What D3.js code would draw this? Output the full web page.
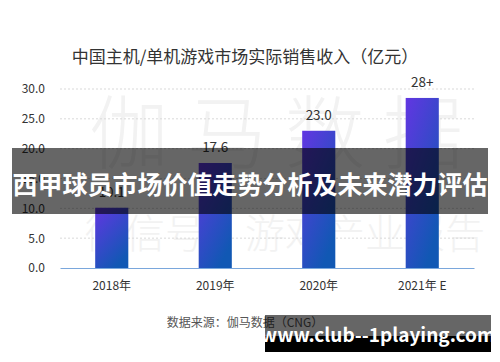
<!DOCTYPE html>
<html><head><meta charset="utf-8">
<script src="https://cdn.jsdelivr.net/npm/d3@7"></script>
<style>
html,body{margin:0;padding:0;background:#fff;}
svg{display:block;font-family:"Noto Sans CJK SC","Noto Sans",sans-serif;}
</style></head>
<body>
<svg id="chart" width="500" height="362"></svg>
<script>
const categories = ["2018年", "2019年", "2020年", "2021年 E"];
const values = [10.1, 17.6, 23.0, 28.5];
const valueLabels = ["10.1", "17.6", "23.0", "28+"];
const yTicks = [0, 5, 10, 15, 20, 25, 30];
const title = "中国主机/单机游戏市场实际销售收入（亿元）";
const source = "数据来源：伽马数据（CNG）";
const banner = "西甲球员市场价值走势分析及未来潜力评估";
const site = "www.club--1playing.com";

const svg = d3.select("#chart");
const defs = svg.append("defs");
const grad = defs.append("linearGradient").attr("id","barGrad")
  .attr("x1","0").attr("y1","0").attr("x2","0.6").attr("y2","1");
grad.append("stop").attr("offset","0").attr("stop-color","#6236e2");
grad.append("stop").attr("offset","1").attr("stop-color","#1158b4");

const x = d3.scaleBand().domain(categories).range([60, 474]).paddingInner(0.68).paddingOuter(0.34);
const y = d3.scaleLinear().domain([0, 30]).range([268, 89]);

// watermark
svg.append("text").attr("x", 285).attr("y", 162).attr("text-anchor","middle")
  .attr("font-size", 80).attr("font-weight", 300).attr("letter-spacing", 18)
  .attr("fill", "#f2f2f2").text("伽马数据");
svg.append("text").attr("x", 285).attr("y", 248).attr("text-anchor","middle")
  .attr("font-size", 40).attr("font-weight", 300)
  .attr("fill", "#f2f2f2").text("微信号：游戏产业报告");

// title
svg.append("text").attr("x", 245).attr("y", 63).attr("text-anchor","middle")
  .attr("font-size", 17).attr("fill", "#333").text(title);

// y axis labels
const yAxis = d3.axisLeft(y).tickValues(yTicks).tickFormat(d3.format(".1f")).tickSize(0).tickPadding(0);
const gy = svg.append("g").attr("transform","translate(45,0)").call(yAxis);
gy.select(".domain").remove();
gy.selectAll("text").attr("font-size", 12).attr("fill", "#333").attr("font-family","'Noto Sans CJK SC','Noto Sans',sans-serif");

// grid
svg.append("g").selectAll("line").data(yTicks.filter(d => d > 0)).join("line")
  .attr("x1", 60).attr("x2", 474).attr("y1", d => y(d)).attr("y2", d => y(d))
  .attr("stroke", "#d9d9d9").attr("stroke-dasharray", "2,2").attr("stroke-width", 1);

// bars
svg.append("g").selectAll("rect").data(values).join("rect")
  .attr("x", (d,i) => x(categories[i])).attr("width", x.bandwidth())
  .attr("y", d => y(d)).attr("height", d => y(0) - y(d))
  .attr("fill", "url(#barGrad)");

// value labels
svg.append("g").selectAll("text").data(values).join("text")
  .attr("x", (d,i) => x(categories[i]) + x.bandwidth()/2)
  .attr("y", d => y(d) - 11).attr("text-anchor","middle")
  .attr("font-size", 13.5).attr("fill", "#333").text((d,i) => valueLabels[i]);

// x axis
const xAxis = d3.axisBottom(x).tickSize(0).tickPadding(13);
const gx = svg.append("g").attr("transform", `translate(0,${y(0)})`).call(xAxis);
gx.select(".domain").attr("stroke", "#7aa7dc").attr("stroke-width", 1.2);
gx.selectAll("text").attr("font-size", 12).attr("fill", "#333").attr("font-family","'Noto Sans CJK SC','Noto Sans',sans-serif");

// source
svg.append("text").attr("x", 245).attr("y", 327).attr("text-anchor","middle")
  .attr("font-size", 12).attr("fill", "#555").text(source);

// overlay banner
svg.append("rect").attr("x", 12).attr("y", 148).attr("width", 476).attr("height", 66)
  .attr("fill", "rgba(0,0,0,0.6)");
svg.append("text").attr("x", 250).attr("y", 194).attr("text-anchor","middle")
  .attr("font-size", 25).attr("font-weight", "bold").attr("fill", "#fff").text(banner);

// site banner
svg.append("rect").attr("x", 265).attr("y", 315).attr("width", 226).attr("height", 21).attr("fill", "rgba(0,0,0,0.6)");
svg.append("rect").attr("x", 265).attr("y", 336).attr("width", 226).attr("height", 16).attr("fill", "#000");
svg.append("text").attr("x", 378).attr("y", 342).attr("text-anchor","middle")
  .attr("font-size", 19).attr("font-weight", "bold").attr("fill", "#fff").text(site);
</script>
</body></html>
